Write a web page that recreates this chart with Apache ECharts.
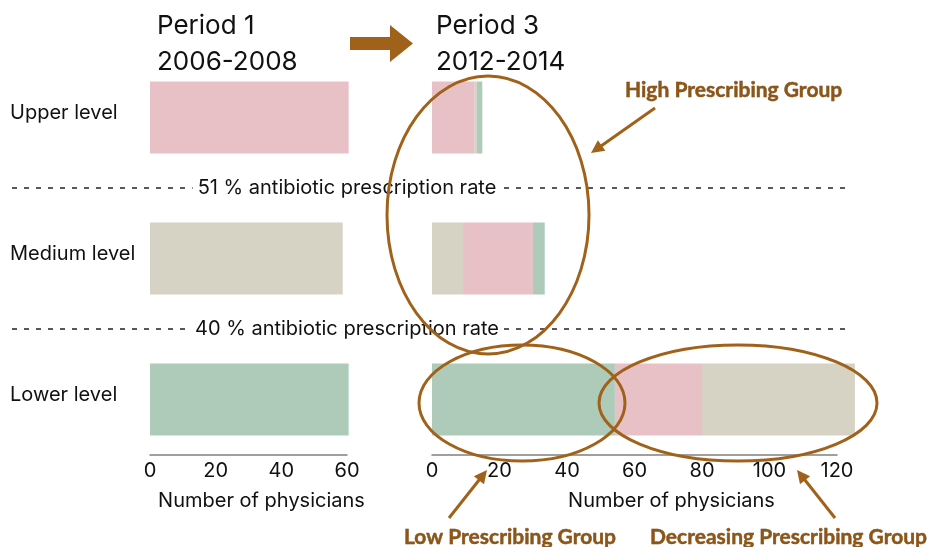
<!DOCTYPE html>
<html><head><meta charset="utf-8">
<script src="https://cdn.jsdelivr.net/npm/echarts@6/dist/echarts.min.js"></script>
<style>html,body{margin:0;padding:0;background:#fff}#c{width:938px;height:547px}</style>
</head><body><div id="c"></div>
<script>
const categories = ['Lower level', 'Medium level', 'Upper level'];
// Period 1 (2006-2008): one bar per level
const period1Values = [60.5, 58.7, 60.5];
const period1Groups = ['low', 'medium', 'high'];
// Period 3 (2012-2014): stacked segments, left to right
const p3Seg1 = [54.2, 9.2, 12.5];
const p3Seg1Groups = ['low', 'medium', 'high'];
const p3Seg2 = [25.8, 20.7, 0.8];
const p3Seg2Groups = ['high', 'high', 'medium'];
const p3Seg3 = [45.3, 3.5, 1.6];
const p3Seg3Groups = ['medium', 'low', 'low'];
const leftTicks = [0, 20, 40, 60];
const rightTicks = [0, 20, 40, 60, 80, 100, 120];

const colors = { high: '#E7C1C6', medium: '#D6D3C4', low: '#AECBBA' };
const brown = '#A0621A';
const font = 'Inter';

function mk(vals, groups) {
  return vals.map((v, i) => ({ value: v, itemStyle: { color: colors[groups[i]] } }));
}

const chart = echarts.init(document.getElementById('c'));
const axisCommon = {
  type: 'value',
  axisLine: { show: true, lineStyle: { color: '#808080', width: 1.5 } },
  axisTick: { show: false },
  splitLine: { show: false },
  nameLocation: 'middle',
  name: 'Number of physicians',
  nameGap: 36,
  offset: -15,
  axisLabel: { fontFamily: font, fontSize: 20, color: '#111', margin: 6 }
};
function arrowHead(x1, y1, x2, y2, len, w) {
  const a = Math.atan2(y2 - y1, x2 - x1);
  const bx = x2 - len * Math.cos(a), by = y2 - len * Math.sin(a);
  const px = -Math.sin(a) * w, py = Math.cos(a) * w;
  return [[x2, y2], [bx + px, by + py], [bx - px, by - py]];
}
function arrow(x1, y1, x2, y2) {
  const a = Math.atan2(y2 - y1, x2 - x1);
  return [
    { type: 'line', shape: { x1, y1, x2: x2 - 8 * Math.cos(a), y2: y2 - 8 * Math.sin(a) }, style: { stroke: brown, lineWidth: 3 }, z: 20 },
    { type: 'polygon', shape: { points: arrowHead(x1, y1, x2, y2, 13, 6.5) }, style: { fill: brown }, z: 20 }
  ];
}
function dashed(y, label) {
  return [
    { type: 'line', shape: { x1: 12, y1: y, x2: 845, y2: y }, style: { stroke: '#222', lineWidth: 1.3, lineDash: [5, 7] }, z: 5 },
    { type: 'text', x: 347, y: y, style: { text: label, font: '20px ' + font, fill: '#111', align: 'center', verticalAlign: 'middle', backgroundColor: '#fff', padding: [0, 5] }, z: 6 }
  ];
}
const annot = (x, y, t) => ({ type: 'text', x, y, style: { text: t, font: 'bold 21px Lato', fill: '#8E5514', stroke: '#5a3408', lineWidth: 0.4, verticalAlign: 'middle' }, z: 20 });

chart.setOption({
  animation: false,
  grid: [
    { left: 150, width: 197, top: 47, height: 423 },
    { left: 432, width: 405, top: 47, height: 423 }
  ],
  xAxis: [
    Object.assign({}, axisCommon, { gridIndex: 0, min: 0, max: 60, interval: 20,
      nameTextStyle: { fontFamily: font, fontSize: 20, color: '#111', padding: [0, 0, 0, 26] } }),
    Object.assign({}, axisCommon, { gridIndex: 1, min: 0, max: 120, interval: 20,
      nameTextStyle: { fontFamily: font, fontSize: 20, color: '#111', padding: [0, 0, 0, 74] } })
  ],
  yAxis: [
    { type: 'category', gridIndex: 0, data: categories, axisLine: { show: false }, axisTick: { show: false },
      axisLabel: { align: 'left', verticalAlign: 'bottom', lineHeight: 10, margin: 140, fontFamily: font, fontSize: 20, color: '#111' } },
    { type: 'category', gridIndex: 1, data: categories, show: false }
  ],
  series: [
    { type: 'bar', xAxisIndex: 0, yAxisIndex: 0, barWidth: 72, data: mk(period1Values, period1Groups), clip: false },
    { type: 'bar', xAxisIndex: 1, yAxisIndex: 1, stack: 'p3', barWidth: 72, data: mk(p3Seg1, p3Seg1Groups), clip: false },
    { type: 'bar', xAxisIndex: 1, yAxisIndex: 1, stack: 'p3', barWidth: 72, data: mk(p3Seg2, p3Seg2Groups), clip: false },
    { type: 'bar', xAxisIndex: 1, yAxisIndex: 1, stack: 'p3', barWidth: 72, data: mk(p3Seg3, p3Seg3Groups), clip: false }
  ],
  graphic: [
    { type: 'text', left: 157, top: 8, style: { text: 'Period 1\n2006-2008', font: '26px ' + font, fill: '#111', lineHeight: 36 } },
    { type: 'text', left: 436, top: 8, style: { text: 'Period 3\n2012-2014', font: '26px ' + font, fill: '#111', lineHeight: 36 } },
    { type: 'polygon', shape: { points: [[350, 37], [390, 37], [390, 25], [413, 43.5], [390, 62], [390, 50], [350, 50]] }, style: { fill: brown } },
    ...dashed(188, '51 % antibiotic prescription rate'),
    ...dashed(329, '40 % antibiotic prescription rate'),
    { type: 'ellipse', shape: { cx: 488, cy: 215, rx: 101, ry: 139 }, style: { fill: 'none', stroke: brown, lineWidth: 3 }, z: 15 },
    { type: 'ellipse', shape: { cx: 522, cy: 403, rx: 103, ry: 58 }, style: { fill: 'none', stroke: brown, lineWidth: 3 }, z: 15 },
    { type: 'ellipse', shape: { cx: 738, cy: 403, rx: 139, ry: 58 }, style: { fill: 'none', stroke: brown, lineWidth: 3 }, z: 15 },
    ...arrow(655, 108, 591, 153),
    ...arrow(449, 518, 487, 470),
    ...arrow(835, 518, 797, 470),
    annot(625, 90, 'High Prescribing Group'),
    annot(404, 537, 'Low Prescribing Group'),
    annot(650, 537, 'Decreasing Prescribing Group')
  ]
});
</script></body></html>
